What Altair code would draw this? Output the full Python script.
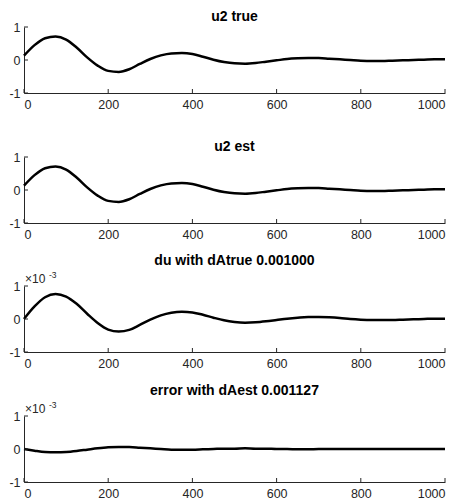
import altair as alt
import pandas as pd

x_vals = list(range(0, 1001, 25))

u2_true = [0.13, 0.45, 0.66, 0.71, 0.62, 0.38, 0.08, -0.17, -0.33, -0.36, -0.28,
           -0.12, 0.03, 0.14, 0.20, 0.21, 0.18, 0.10, 0.01, -0.06, -0.10, -0.11,
           -0.09, -0.05, -0.01, 0.03, 0.05, 0.06, 0.06, 0.04, 0.02, 0.00, -0.02,
           -0.03, -0.03, -0.02, -0.01, 0.00, 0.01, 0.02, 0.02]
u2_est = [0.13, 0.45, 0.66, 0.71, 0.62, 0.38, 0.08, -0.17, -0.33, -0.36, -0.28,
          -0.12, 0.03, 0.14, 0.20, 0.21, 0.18, 0.10, 0.01, -0.06, -0.10, -0.11,
          -0.09, -0.05, -0.01, 0.03, 0.05, 0.06, 0.06, 0.04, 0.02, 0.00, -0.02,
          -0.03, -0.03, -0.02, -0.01, 0.00, 0.01, 0.02, 0.02]
du_true = [0.00, 0.38, 0.66, 0.76, 0.68, 0.46, 0.16, -0.12, -0.32, -0.38, -0.33,
           -0.18, -0.02, 0.11, 0.19, 0.22, 0.20, 0.13, 0.04, -0.04, -0.09, -0.11,
           -0.10, -0.07, -0.03, 0.01, 0.04, 0.06, 0.06, 0.05, 0.03, 0.00, -0.02,
           -0.03, -0.03, -0.03, -0.02, -0.01, 0.00, 0.01, 0.01]
err_est = [0.00, -0.05, -0.09, -0.10, -0.09, -0.06, -0.02, 0.02, 0.05, 0.06, 0.06,
           0.04, 0.02, 0.00, -0.02, -0.02, -0.02, -0.01, 0.00, 0.01, 0.01, 0.02,
           0.01, 0.01, 0.00, 0.00, -0.01, -0.01, 0.00, 0.00, 0.00, 0.00, 0.00,
           0.00, 0.00, 0.00, 0.00, 0.00, 0.00, 0.00, 0.00]

titles = ["u2 true", "u2 est", "du with dAtrue 0.001000", "error with dAest 0.001127"]
x_ticks = [0, 200, 400, 600, 800, 1000]
y_ticks = [-1, 0, 1]

W, H = 421, 66
AX = "#262626"
FONT = "Liberation Sans"


def panel(vals, title, exp=False):
    df = pd.DataFrame({"x": x_vals, "y": vals})
    xs = alt.Scale(domain=[0, 1000], nice=False, zero=False)
    ys = alt.Scale(domain=[-1, 1], nice=False)
    xa = alt.Axis(values=x_ticks, title=None, ticks=False, grid=False,
                  labelExpr="toString(datum.value)", labelPadding=5)
    ya = alt.Axis(values=y_ticks, title=None, ticks=False, grid=False,
                  labelExpr="toString(datum.value)", labelPadding=4)
    line = alt.Chart(df).mark_line(color="black", strokeWidth=2.5,
                                   interpolate="monotone").encode(
        x=alt.X("x:Q", scale=xs, axis=xa),
        y=alt.Y("y:Q", scale=ys, axis=ya),
    )
    xt = alt.Chart(pd.DataFrame({"x": x_ticks})).mark_rule(
        color=AX, strokeWidth=1).encode(
        x=alt.X("x:Q", scale=xs, axis=xa),
        y=alt.value(H), y2=alt.value(H - 4),
    )
    yt = alt.Chart(pd.DataFrame({"y": y_ticks})).mark_rule(
        color=AX, strokeWidth=1).encode(
        y=alt.Y("y:Q", scale=ys, axis=ya),
        x=alt.value(0), x2=alt.value(4),
    )
    layers = [line, xt, yt]
    if exp:
        t1 = alt.Chart(pd.DataFrame({"s": ["×10"]})).mark_text(
            align="left", baseline="alphabetic", fontSize=12, font=FONT,
            color=AX).encode(x=alt.value(1), y=alt.value(-2.7), text="s:N")
        t2 = alt.Chart(pd.DataFrame({"s": ["-3"]})).mark_text(
            align="left", baseline="alphabetic", fontSize=8.5, font=FONT,
            color=AX).encode(x=alt.value(25), y=alt.value(-8.3), text="s:N")
        layers += [t1, t2]
    return alt.layer(*layers).properties(
        width=W, height=H,
        title=alt.TitleParams(title, offset=3 if exp else -3, fontSize=14,
                              fontWeight="bold", font=FONT, color="black"),
    )


p1 = panel(u2_true, titles[0])
p2 = panel(u2_est, titles[1])
p3 = panel(du_true, titles[2], exp=True)
p4 = panel(err_est, titles[3], exp=True)

top = alt.vconcat(p1, p2, spacing=29)
bottom = alt.vconcat(p3, p4, spacing=13)
chart = alt.vconcat(top, bottom, spacing=12).properties(
    padding={"left": 0, "top": 2, "right": 0, "bottom": 0}
).configure_view(
    stroke=None
).configure_axis(
    domainColor=AX, domainWidth=1, labelColor=AX, labelFont=FONT,
    labelFontSize=12.5,
)

chart.save("out.html", embed_options={"renderer": "svg", "actions": False})
